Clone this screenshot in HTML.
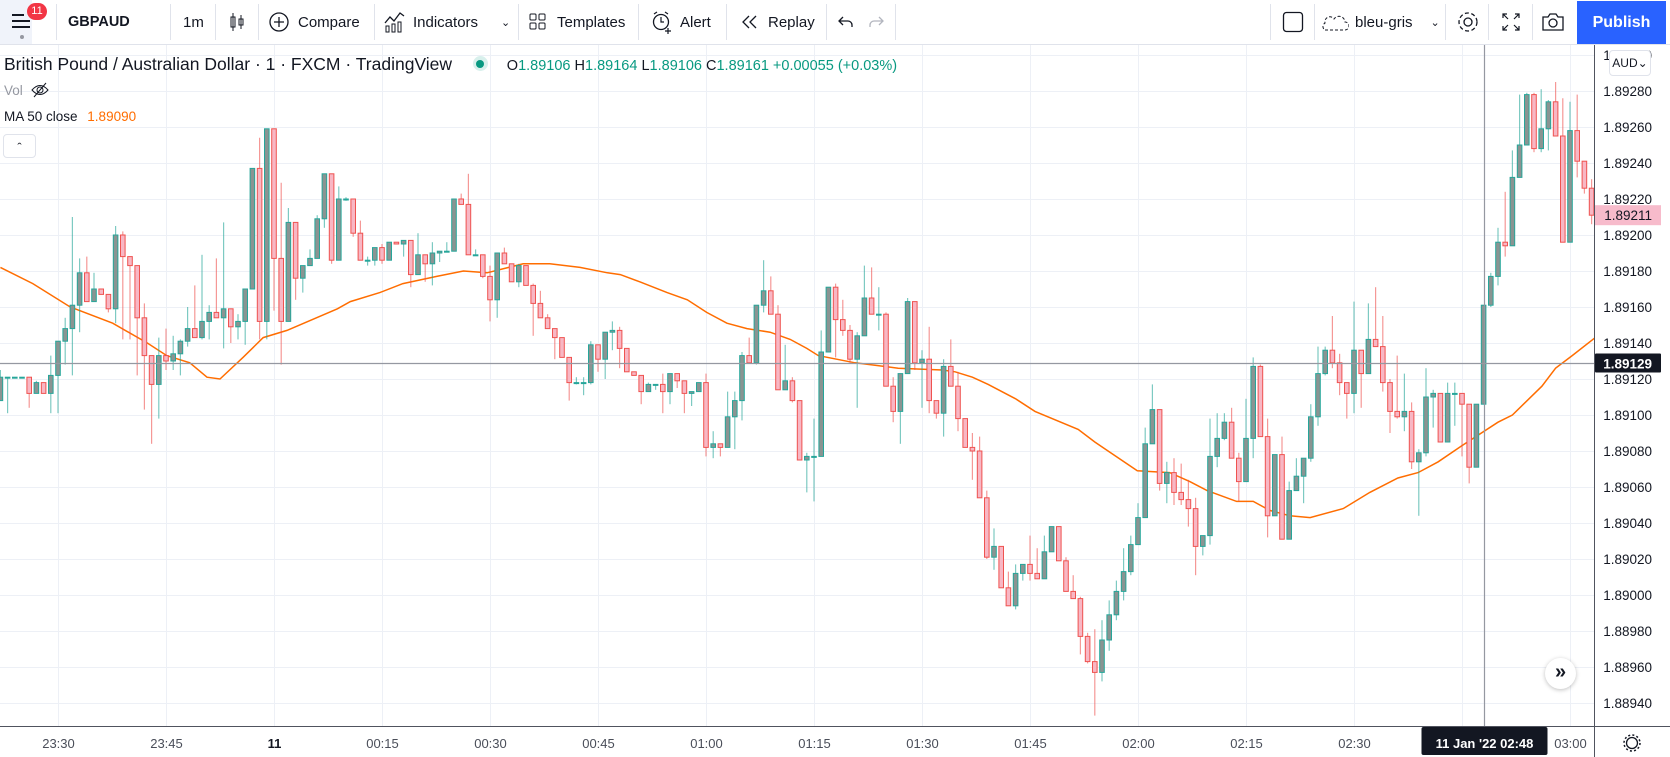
<!DOCTYPE html>
<html><head><meta charset="utf-8"><title>GBPAUD chart</title>
<style>
*{box-sizing:border-box;margin:0;padding:0}
body{width:1670px;height:757px;overflow:hidden;background:#fff;font-family:"Liberation Sans",sans-serif;color:#131722;position:relative}
#toolbar{position:absolute;left:0;top:0;width:1670px;height:45px;border-bottom:1px solid #e0e3eb;background:#fff}
.tb{position:absolute;top:0;height:44px;display:flex;align-items:center;font-size:15px;color:#131722;white-space:nowrap}
.sep{position:absolute;top:4px;width:1px;height:36px;background:#e0e3eb}
#chart{position:absolute;left:0;top:0}
.legend{position:absolute;left:4px;font-size:17.5px;white-space:nowrap}
</style></head><body>
<div id="toolbar">
  <div style="position:absolute;left:0;top:0;width:32px;height:44px;background:#f0f3fa">
    <svg width="32" height="44"><rect x="12" y="14" width="12" height="2" fill="#131722"/><rect x="12" y="20" width="18" height="2" fill="#131722"/><rect x="12" y="26" width="18" height="2" fill="#131722"/><circle cx="22" cy="37" r="2" fill="#9598a1"/></svg>
    <div style="position:absolute;left:27px;top:3px;width:20px;height:17px;border-radius:9px;background:#f23645;color:#fff;font-size:11px;text-align:center;line-height:17px">11</div>
  </div>
  <div class="sep" style="left:56px"></div>
  <div class="tb" style="left:68px;font-weight:bold;font-size:14.5px">GBPAUD</div>
  <div class="sep" style="left:170px"></div>
  <div class="tb" style="left:183px">1m</div>
  <div class="sep" style="left:215px"></div>
  <div class="tb" style="left:229px"><svg width="16" height="22"><rect x="2" y="6" width="4" height="10" fill="none" stroke="#131722"/><line x1="4" y1="2" x2="4" y2="20" stroke="#131722"/><rect x="10" y="8" width="4" height="6" fill="none" stroke="#131722"/><line x1="12" y1="4" x2="12" y2="18" stroke="#131722"/></svg></div>
  <div class="sep" style="left:258px"></div>
  <div class="tb" style="left:268px"><svg width="22" height="22"><circle cx="11" cy="11" r="9" fill="none" stroke="#131722" stroke-width="1.3"/><path d="M11 6v10M6 11h10" stroke="#131722" stroke-width="1.3"/></svg><span style="position:absolute;left:30px">Compare</span></div>
  <div class="sep" style="left:374px"></div>
  <div class="tb" style="left:384px;width:130px"><svg width="22" height="22"><path d="M1 12l5-6 4 4 6-8 4 3" fill="none" stroke="#131722" stroke-width="1.3"/><rect x="2" y="15" width="3" height="6" fill="none" stroke="#131722"/><rect x="8" y="13" width="3" height="8" fill="none" stroke="#131722"/><rect x="14" y="11" width="3" height="10" fill="none" stroke="#131722"/></svg><span style="position:absolute;left:29px">Indicators</span><span style="position:absolute;left:117px;font-size:11px">&#8964;</span></div>
  <div class="sep" style="left:518px"></div>
  <div class="tb" style="left:528px"><svg width="20" height="20"><rect x="2" y="2" width="6" height="6" rx="1" fill="none" stroke="#131722"/><rect x="11" y="2" width="6" height="6" rx="1" fill="none" stroke="#131722"/><rect x="2" y="11" width="6" height="6" rx="1" fill="none" stroke="#131722"/><rect x="11" y="11" width="6" height="6" rx="1" fill="none" stroke="#131722"/></svg><span style="position:absolute;left:29px">Templates</span></div>
  <div class="sep" style="left:638px"></div>
  <div class="tb" style="left:651px"><svg width="22" height="24"><circle cx="10" cy="12" r="7.5" fill="none" stroke="#131722" stroke-width="1.3"/><path d="M10 7v5h3M3 4l3-2M17 4l-3-2M17 18v6M14 21h6" stroke="#131722" stroke-width="1.2" fill="none"/></svg><span style="position:absolute;left:29px">Alert</span></div>
  <div class="sep" style="left:726px"></div>
  <div class="tb" style="left:741px"><svg width="18" height="18"><path d="M8 3L2 9l6 6M15 3L9 9l6 6" fill="none" stroke="#131722" stroke-width="1.3"/></svg><span style="position:absolute;left:27px">Replay</span></div>
  <div class="sep" style="left:826px"></div>
  <div class="tb" style="left:838px"><svg width="16" height="16"><path d="M5 3L1 7l4 4M1 7h9a4 4 0 0 1 4 4v2" fill="none" stroke="#131722" stroke-width="1.3"/></svg></div>
  <div class="tb" style="left:868px"><svg width="16" height="16"><path d="M11 3l4 4-4 4M15 7H6a4 4 0 0 0-4 4v2" fill="none" stroke="#b2b5be" stroke-width="1.3"/></svg></div>
  <div class="sep" style="left:895px"></div>
  <div class="sep" style="left:1270px"></div>
  <div class="tb" style="left:1282px"><svg width="22" height="22"><rect x="1.5" y="1.5" width="19" height="19" rx="3" fill="none" stroke="#131722" stroke-width="1.3"/></svg></div>
  <div class="sep" style="left:1314px"></div>
  <div class="tb" style="left:1321px"><svg width="28" height="20"><path d="M4 18h20a3 3 0 0 0 0-8 6 6 0 0 0-11-3 5 5 0 0 0-9 4 4 4 0 0 0 0 7z" fill="none" stroke="#131722" stroke-dasharray="3 2"/></svg><span style="margin-left:6px">bleu-gris</span><span style="margin-left:18px;font-size:11px">&#8964;</span></div>
  <div class="sep" style="left:1445px"></div>
  <div class="tb" style="left:1456px"><svg width="24" height="24"><circle cx="12" cy="12" r="4" fill="none" stroke="#131722" stroke-width="1.3"/><circle cx="12" cy="12" r="9" fill="none" stroke="#131722" stroke-width="1.3" stroke-dasharray="4 2.5"/></svg></div>
  <div class="sep" style="left:1488px"></div>
  <div class="tb" style="left:1501px"><svg width="20" height="20"><path d="M2 6V2h4M14 2h4v4M18 14v4h-4M6 18H2v-4M2 2l5 5M18 2l-5 5M18 18l-5-5M2 18l5-5" fill="none" stroke="#131722" stroke-width="1.2"/></svg></div>
  <div class="sep" style="left:1532px"></div>
  <div class="tb" style="left:1541px"><svg width="24" height="20"><path d="M2 5h5l2-3h6l2 3h5v13H2z" fill="none" stroke="#131722" stroke-width="1.3"/><circle cx="12" cy="11" r="4" fill="none" stroke="#131722" stroke-width="1.3"/></svg></div>
  <div style="position:absolute;left:1577px;top:1px;width:89px;height:43px;background:#2962ff;color:#fff;font-size:16px;font-weight:bold;text-align:center;line-height:43px">Publish</div>
</div>

<svg id="chart" width="1670" height="757" style="top:0">
  <g id="grid"></g>
  <g id="ma"></g>
  <g id="candles"></g>
  <g id="overlay"></g>
</svg>

<div class="legend" style="top:54px">British Pound / Australian Dollar · 1 · FXCM · TradingView
  <span style="display:inline-block;width:15px;height:15px;border-radius:8px;background:#d8f0ec;vertical-align:-1px;margin-left:16px;position:relative"><span style="position:absolute;left:3.5px;top:3.5px;width:8px;height:8px;border-radius:4px;background:#089981"></span></span>
  <span style="font-size:14.5px;margin-left:14px;color:#089981"><span style="color:#131722">O</span>1.89106 <span style="color:#131722">H</span>1.89164 <span style="color:#131722">L</span>1.89106 <span style="color:#131722">C</span>1.89161 +0.00055 (+0.03%)</span>
</div>
<div class="legend" style="top:81px;font-size:13.5px;color:#9598a1">Vol <svg width="18" height="18" style="vertical-align:-4px;margin-left:4px"><path d="M1 9q8-9 16 0q-8 9-16 0z" fill="none" stroke="#131722"/><circle cx="9" cy="9" r="3" fill="none" stroke="#131722"/><path d="M3 16L15 2" stroke="#131722"/></svg></div>
<div class="legend" style="top:109px;font-size:13.5px;color:#131722">MA 50 close <span style="color:#ff6d00;margin-left:6px">1.89090</span></div>
<div style="position:absolute;left:3px;top:134px;width:33px;height:24px;border:1px solid #e0e3eb;border-radius:4px;text-align:center;font-size:13px;line-height:26px">&#710;</div>
<div style="position:absolute;left:1609px;top:50px;width:42px;height:26px;border:1px solid #e0e3eb;border-radius:4px;background:#fff;font-size:12px;line-height:24px;text-align:center">AUD&#8964;</div>
<div style="position:absolute;left:1545px;top:658px;width:31px;height:31px;border-radius:16px;background:#fff;box-shadow:0 1px 4px rgba(0,0,0,0.25);text-align:center;line-height:29px;font-size:20px;font-weight:bold;color:#131722">»</div>

<script>
const priceTicks = [1.89300,1.89280,1.89260,1.89240,1.89220,1.89200,1.89180,1.89160,1.89140,1.89120,1.89100,1.89080,1.89060,1.89040,1.89020,1.89000,1.88980,1.88960,1.88940];
const timeLabels = ["23:30","23:45","11","00:15","00:30","00:45","01:00","01:15","01:30","01:45","02:00","02:15","02:30","02:45","03:00"];
const timeLabelIdx = [8,23,38,53,68,83,98,113,128,143,158,173,188,203,218];
const firstOpen = 1.89108;
const closes = [1.89121,1.89121,1.89121,1.89121,1.89112,1.89118,1.89112,1.89122,1.89141,1.89148,
1.89161,1.89179,1.89163,1.89170,1.89167,1.89159,1.89200,1.89188,1.89183,1.89154,
1.89133,1.89117,1.89133,1.89130,1.89134,1.89141,1.89148,1.89143,1.89152,1.89157,
1.89154,1.89159,1.89149,1.89152,1.89170,1.89237,1.89152,1.89259,1.89187,1.89152,
1.89207,1.89176,1.89183,1.89187,1.89209,1.89234,1.89186,1.89220,1.89220,1.89201,
1.89186,1.89186,1.89193,1.89186,1.89196,1.89195,1.89197,1.89178,1.89189,1.89184,
1.89190,1.89191,1.89191,1.89220,1.89217,1.89189,1.89189,1.89177,1.89164,1.89190,
1.89184,1.89174,1.89183,1.89172,1.89162,1.89154,1.89148,1.89143,1.89132,1.89118,
1.89118,1.89118,1.89139,1.89131,1.89146,1.89147,1.89137,1.89124,1.89122,1.89113,
1.89117,1.89117,1.89113,1.89123,1.89119,1.89112,1.89113,1.89118,1.89082,1.89084,
1.89082,1.89099,1.89108,1.89133,1.89129,1.89161,1.89169,1.89156,1.89114,1.89119,
1.89108,1.89075,1.89077,1.89077,1.89135,1.89171,1.89153,1.89147,1.89131,1.89144,
1.89165,1.89156,1.89156,1.89116,1.89102,1.89123,1.89163,1.89129,1.89131,1.89108,
1.89101,1.89127,1.89116,1.89098,1.89082,1.89080,1.89054,1.89021,1.89027,1.89004,
1.88994,1.89012,1.89017,1.89012,1.89009,1.89024,1.89038,1.89019,1.89002,1.88998,
1.88977,1.88963,1.88957,1.88975,1.88989,1.89002,1.89013,1.89028,1.89043,1.89084,
1.89103,1.89062,1.89068,1.89057,1.89053,1.89048,1.89027,1.89033,1.89077,1.89087,
1.89096,1.89076,1.89063,1.89087,1.89127,1.89088,1.89044,1.89078,1.89031,1.89058,
1.89066,1.89076,1.89099,1.89123,1.89136,1.89129,1.89118,1.89112,1.89136,1.89123,
1.89142,1.89138,1.89118,1.89102,1.89099,1.89102,1.89074,1.89079,1.89110,1.89112,
1.89085,1.89112,1.89112,1.89106,1.89071,1.89106,1.89161,1.89177,1.89196,1.89194,
1.89232,1.89250,1.89278,1.89248,1.89259,1.89274,1.89255,1.89196,1.89258,1.89241,
1.89226,1.89211];
const highs = [1.89125,1.89121,1.89121,1.89121,1.89121,1.89119,1.89112,1.89133,1.89141,1.89154,
1.89210,1.89187,1.89188,1.89179,1.89170,1.89167,1.89205,1.89202,1.89188,1.89183,
1.89162,1.89133,1.89143,1.89148,1.89144,1.89142,1.89160,1.89172,1.89189,1.89161,
1.89187,1.89207,1.89159,1.89156,1.89170,1.89237,1.89254,1.89259,1.89259,1.89229,
1.89215,1.89207,1.89183,1.89192,1.89211,1.89234,1.89234,1.89227,1.89221,1.89220,
1.89208,1.89188,1.89193,1.89195,1.89196,1.89196,1.89197,1.89197,1.89201,1.89189,
1.89196,1.89191,1.89196,1.89220,1.89223,1.89234,1.89192,1.89189,1.89183,1.89190,
1.89193,1.89184,1.89184,1.89183,1.89173,1.89169,1.89156,1.89148,1.89143,1.89132,
1.89121,1.89121,1.89141,1.89139,1.89146,1.89152,1.89149,1.89137,1.89124,1.89122,
1.89118,1.89117,1.89123,1.89123,1.89123,1.89119,1.89113,1.89118,1.89123,1.89091,
1.89084,1.89113,1.89113,1.89135,1.89143,1.89161,1.89186,1.89177,1.89161,1.89139,
1.89121,1.89108,1.89079,1.89098,1.89147,1.89171,1.89173,1.89164,1.89150,1.89146,
1.89183,1.89182,1.89171,1.89157,1.89121,1.89123,1.89165,1.89163,1.89136,1.89149,
1.89108,1.89131,1.89142,1.89124,1.89098,1.89090,1.89088,1.89058,1.89037,1.89027,
1.89013,1.89017,1.89017,1.89033,1.89026,1.89033,1.89038,1.89038,1.89021,1.89011,
1.88999,1.88979,1.88981,1.88986,1.88997,1.89008,1.89026,1.89033,1.89051,1.89093,
1.89117,1.89103,1.89074,1.89076,1.89073,1.89064,1.89054,1.89033,1.89098,1.89101,
1.89101,1.89104,1.89079,1.89109,1.89132,1.89128,1.89098,1.89078,1.89088,1.89063,
1.89076,1.89076,1.89106,1.89138,1.89138,1.89155,1.89134,1.89118,1.89163,1.89136,
1.89162,1.89171,1.89155,1.89120,1.89133,1.89123,1.89107,1.89081,1.89126,1.89114,
1.89112,1.89118,1.89118,1.89112,1.89106,1.89106,1.89161,1.89179,1.89204,1.89224,
1.89247,1.89278,1.89279,1.89279,1.89281,1.89275,1.89285,1.89276,1.89274,1.89278,
1.89241,1.89231];
const lows = [1.89108,1.89101,1.89121,1.89121,1.89104,1.89112,1.89112,1.89101,1.89101,1.89128,
1.89122,1.89146,1.89163,1.89163,1.89167,1.89157,1.89151,1.89142,1.89142,1.89122,
1.89103,1.89084,1.89098,1.89125,1.89125,1.89122,1.89138,1.89143,1.89142,1.89142,
1.89154,1.89137,1.89140,1.89142,1.89139,1.89170,1.89142,1.89142,1.89158,1.89128,
1.89152,1.89164,1.89168,1.89183,1.89187,1.89204,1.89184,1.89186,1.89219,1.89199,
1.89186,1.89183,1.89183,1.89184,1.89186,1.89195,1.89188,1.89171,1.89178,1.89174,
1.89172,1.89185,1.89191,1.89191,1.89217,1.89189,1.89189,1.89176,1.89152,1.89154,
1.89184,1.89174,1.89171,1.89172,1.89144,1.89154,1.89148,1.89131,1.89132,1.89108,
1.89117,1.89111,1.89117,1.89124,1.89120,1.89136,1.89126,1.89124,1.89122,1.89106,
1.89113,1.89114,1.89101,1.89106,1.89115,1.89101,1.89105,1.89113,1.89077,1.89076,
1.89077,1.89082,1.89081,1.89097,1.89129,1.89128,1.89157,1.89156,1.89114,1.89114,
1.89107,1.89075,1.89057,1.89052,1.89077,1.89135,1.89132,1.89144,1.89129,1.89104,
1.89144,1.89156,1.89147,1.89116,1.89096,1.89084,1.89123,1.89125,1.89104,1.89101,
1.89098,1.89088,1.89116,1.89091,1.89082,1.89064,1.89054,1.89020,1.89014,1.89004,
1.88994,1.88992,1.89008,1.89008,1.89009,1.89009,1.89024,1.89019,1.89002,1.88998,
1.88967,1.88962,1.88933,1.88952,1.88969,1.88986,1.88997,1.89011,1.89028,1.89043,
1.89084,1.89058,1.89051,1.89050,1.89050,1.89038,1.89011,1.89022,1.89028,1.89071,
1.89086,1.89076,1.89052,1.89063,1.89076,1.89088,1.89032,1.89044,1.89031,1.89031,
1.89058,1.89051,1.89074,1.89094,1.89122,1.89126,1.89111,1.89098,1.89101,1.89104,
1.89123,1.89138,1.89113,1.89090,1.89098,1.89091,1.89070,1.89044,1.89077,1.89093,
1.89085,1.89085,1.89094,1.89077,1.89062,1.89071,1.89106,1.89160,1.89172,1.89188,
1.89194,1.89232,1.89250,1.89246,1.89246,1.89247,1.89255,1.89196,1.89196,1.89232,
1.89223,1.89206];
const maIndex = [0,4.5,9.7,15.6,20.4,23.1,26.3,28.7,30.5,33.7,36.5,39.8,46.8,48.6,52.7,55.9,60.6,64.3,67.6,72.6,76.3,80.5,84.3,86.1,88.8,92.6,95.4,98.1,100.9,103.7,106.9,109.7,112,113.6,118.7,124.7,130.8,132.6,135,137.2,141,143.7,149.7,152,153.1,157.9,162.4,165.2,167.6,171.7,174,176.3,179.1,181.9,186.5,190.2,194.1,196.9,199.7,203,208,210,214.1,216,218.3,221.5];
const maValues = [1.89182,1.89173,1.89160,1.89151,1.89140,1.89133,1.89129,1.89121,1.89120,1.89132,1.89143,1.89147,1.89159,1.89163,1.89168,1.89173,1.89177,1.89180,1.89179,1.89184,1.89184,1.89182,1.89179,1.89178,1.89174,1.89168,1.89164,1.89157,1.89151,1.89148,1.89146,1.89142,1.89137,1.89133,1.89129,1.89126,1.89125,1.89124,1.89121,1.89117,1.89109,1.89102,1.89092,1.89085,1.89082,1.89069,1.89068,1.89063,1.89058,1.89052,1.89052,1.89047,1.89044,1.89043,1.89048,1.89057,1.89065,1.89068,1.89074,1.89083,1.89096,1.89100,1.89116,1.89126,1.89133,1.89143];
const lastPrice = 1.89211;
const crossPrice = 1.89129;
const crossIndex = 206;

const NS = "http://www.w3.org/2000/svg";
const PLOT_R = 1594, PLOT_T = 45, PLOT_B = 726;
function yScale(p){ return 91 + (1.89280 - p) * 180000; }
function xScale(i){ return 0.4 + 7.2 * i; }
function mk(tag, attrs, parent){ const e=document.createElementNS(NS,tag); for(const k in attrs) e.setAttribute(k, attrs[k]); parent.appendChild(e); return e; }

const grid = document.getElementById('grid');
const clip = mk('clipPath',{id:'plotclip'},document.getElementById('chart'));
mk('rect',{x:0,y:PLOT_T,width:PLOT_R,height:PLOT_B-PLOT_T},clip);

priceTicks.forEach(p=>{
  const y = Math.round(yScale(p))+0.5;
  if (y > PLOT_T && y < PLOT_B) {
    const l = mk('line',{x1:0,x2:PLOT_R,y1:y,y2:y,stroke:'#edf0f6','stroke-width':1},grid);
    
    
  }
  const t = mk('text',{x:1652,y:yScale(p)+5,'text-anchor':'end','font-size':'13.5','fill':'#131722','font-family':'Liberation Sans, sans-serif'},grid);
  t.textContent = p.toFixed(5);
  
  
});
timeLabels.forEach((lab,i)=>{
  const x = Math.round(xScale(timeLabelIdx[i]))+0.5;
  const l = mk('line',{x1:x,x2:x,y1:PLOT_T,y2:PLOT_B,stroke:'#edf0f6','stroke-width':1},grid);
  
  
  const t = mk('text',{x:x,y:748,'text-anchor':'middle','font-size':'13','fill':lab==='11'?'#131722':'#4a4e59','font-weight':lab==='11'?'bold':'normal','font-family':'Liberation Sans, sans-serif'},grid);
  t.textContent = lab;
  
  
});
const ax1 = mk('line',{x1:PLOT_R+0.5,x2:PLOT_R+0.5,y1:PLOT_T,y2:757,stroke:'#50535e','stroke-width':1},grid);


const ax2 = mk('line',{x1:0,x2:1670,y1:PLOT_B+0.5,y2:PLOT_B+0.5,stroke:'#50535e','stroke-width':1},grid);



const maG = document.getElementById('ma');
maG.setAttribute('clip-path','url(#plotclip)');
const pts = maIndex.map((k,i)=>xScale(k).toFixed(1)+','+yScale(maValues[i]).toFixed(1)).join(' ');
const ma = mk('polyline',{points:pts,fill:'none',stroke:'#ff6d00','stroke-width':1.5},maG);



const cg = document.getElementById('candles');
cg.setAttribute('clip-path','url(#plotclip)');
closes.forEach((c,i)=>{
  const o = i===0 ? firstOpen : closes[i-1];
  const up = c >= o;
  const x = xScale(i);
  const g = mk('g',{},cg);
  
  
  mk('line',{x1:x,x2:x,y1:yScale(highs[i]),y2:yScale(lows[i]),stroke:up?'#26a69a':'#ef5350','stroke-opacity':0.6,'stroke-width':1.2},g);
  const yt = yScale(Math.max(o,c)), yb = yScale(Math.min(o,c));
  mk('rect',{x:x-2.3,y:yt,width:4.6,height:Math.max(1,yb-yt),fill:up?'#8a9492':'#f8b7c4',stroke:up?'#26a69a':'#ef5350','stroke-width':1},g);
});

const ov = document.getElementById('overlay');
const cx = Math.round(xScale(crossIndex))+0.5;
const cy = Math.round(yScale(crossPrice))+0.5;
const vl = mk('line',{x1:cx,x2:cx,y1:PLOT_T,y2:PLOT_B,stroke:'#9598a1','stroke-width':1.2},ov);


const hl = mk('line',{x1:0,x2:PLOT_R,y1:cy,y2:cy,stroke:'#9598a1','stroke-width':1.2},ov);



const lpY = yScale(lastPrice);
const lpBox = mk('rect',{x:PLOT_R+1,y:lpY-10,width:66,height:20,fill:'#f7bbcb'},ov);


const lpT = mk('text',{x:1652,y:lpY+5,'text-anchor':'end','font-size':'13.5','fill':'#131722','font-family':'Liberation Sans, sans-serif'},ov);
lpT.textContent = lastPrice.toFixed(5);



const cpBox = mk('rect',{x:PLOT_R+1,y:cy-10,width:66,height:19,fill:'#131722',rx:1},ov);


const cpT = mk('text',{x:1652,y:cy+5,'text-anchor':'end','font-size':'13.5','font-weight':'bold','fill':'#fff','font-family':'Liberation Sans, sans-serif'},ov);
cpT.textContent = crossPrice.toFixed(5);



const ctBox = mk('rect',{x:cx-63,y:PLOT_B+1,width:126,height:28,fill:'#131722',rx:2},ov);


const ctT = mk('text',{x:cx,y:748,'text-anchor':'middle','font-size':'13','font-weight':'bold','fill':'#fff','font-family':'Liberation Sans, sans-serif','xml:space':'preserve'},ov);
ctT.textContent = "11 Jan '22   02:48";



const gear = mk('g',{},ov);


mk('circle',{cx:1632,cy:743,r:5.5,fill:'none',stroke:'#131722','stroke-width':1.3},gear);
mk('circle',{cx:1632,cy:743,r:8,fill:'none',stroke:'#131722','stroke-width':1.5,'stroke-dasharray':'2 2.2'},gear);
</script>
</body></html>
